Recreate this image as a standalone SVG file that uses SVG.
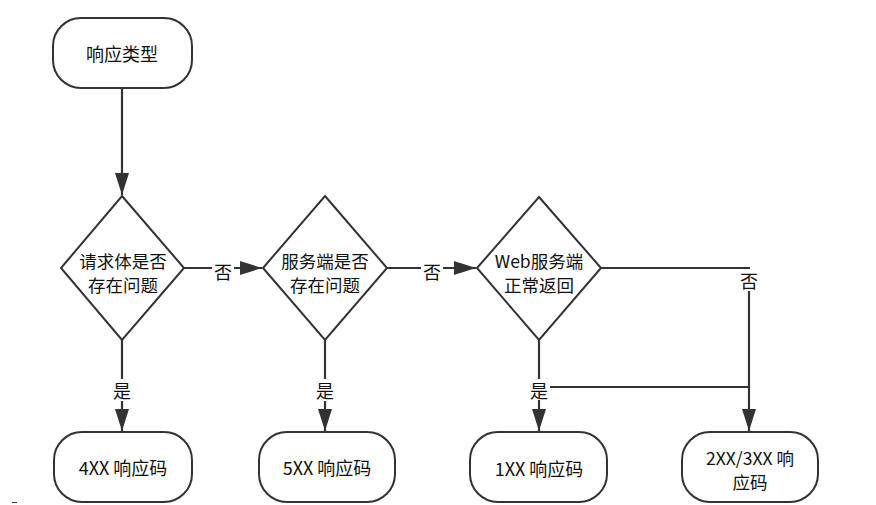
<svg xmlns="http://www.w3.org/2000/svg" width="876" height="505" viewBox="0 0 876 505">
<defs>
<style>
.n{fill:#fff;stroke:#333;stroke-width:2}
.t{font-family:"Noto Sans CJK SC","Liberation Sans",sans-serif;font-size:18px;fill:#111;text-anchor:middle;dominant-baseline:central}
.t2{font-size:17.5px}
.c{fill:none;stroke:#333;stroke-width:2.2}
.bg{fill:#fff}
</style>
<marker id="ah" markerUnits="userSpaceOnUse" markerWidth="22" markerHeight="14" refX="22" refY="7" orient="auto" viewBox="0 0 22 14">
<path d="M0,0 L22,7 L0,14 Z" fill="#333"/>
</marker>
</defs>
<rect width="876" height="505" fill="#fff"/>
<g id="connectors">
<path class="c" d="M122,88 V195" marker-end="url(#ah)"/>
<path class="c" d="M184,268 H262" marker-end="url(#ah)"/>
<path class="c" d="M387,268 H476" marker-end="url(#ah)"/>
<path class="c" d="M122,340 V431" marker-end="url(#ah)"/>
<path class="c" d="M325,340 V431" marker-end="url(#ah)"/>
<path class="c" d="M539,340 V431" marker-end="url(#ah)"/>
<path class="c" d="M601,268 H749 V431" marker-end="url(#ah)"/>
<path class="c" d="M539,387 H749" stroke-width="2"/>
<rect class="bg" x="212" y="260" width="22" height="22"/>
<text class="t" x="223" y="271">否</text>
<rect class="bg" x="421" y="260" width="22" height="22"/>
<text class="t" x="432" y="271">否</text>
<rect class="bg" x="738" y="269" width="22" height="22"/>
<text class="t" x="749" y="280">否</text>
<rect class="bg" x="111" y="379" width="22" height="22"/>
<text class="t" x="122" y="390">是</text>
<rect class="bg" x="314" y="379" width="22" height="22"/>
<text class="t" x="325" y="390">是</text>
<rect class="bg" x="528" y="379" width="22" height="21"/>
<text class="t" x="539" y="390">是</text>
</g>
<g id="start">
<rect class="n" x="53" y="18" width="139" height="70" rx="28"/>
<text class="t" x="122" y="53">响应类型</text>
</g>
<g id="d1">
<polygon class="n" points="122,196 184,268 122,340 61,268"/>
<text class="t t2" x="123" y="260">请求体是否</text>
<text class="t t2" x="123" y="284">存在问题</text>
</g>
<g id="d2">
<polygon class="n" points="325,196 387,268 325,340 263,268"/>
<text class="t t2" x="325" y="260">服务端是否</text>
<text class="t t2" x="325" y="284">存在问题</text>
</g>
<g id="d3">
<polygon class="n" points="539,197 601,268 539,340 477,268"/>
<text class="t t2" x="539" y="260">Web服务端</text>
<text class="t t2" x="539" y="284">正常返回</text>
</g>
<g id="r4">
<rect class="n" x="54" y="432" width="138" height="70" rx="28"/>
<text class="t" x="123" y="467">4XX 响应码</text>
</g>
<g id="r5">
<rect class="n" x="259" y="432" width="136" height="70" rx="28"/>
<text class="t" x="327" y="467">5XX 响应码</text>
</g>
<g id="r1">
<rect class="n" x="470" y="432" width="137" height="70" rx="28"/>
<text class="t" x="539" y="468">1XX 响应码</text>
</g>
<g id="r23">
<rect class="n" x="682" y="432" width="136" height="70" rx="28"/>
<text class="t t2" x="750" y="457">2XX/3XX 响</text>
<text class="t t2" x="750" y="481">应码</text>
</g>
<line x1="12" y1="502.5" x2="17" y2="502.5" stroke="#333" stroke-width="1"/>
</svg>
